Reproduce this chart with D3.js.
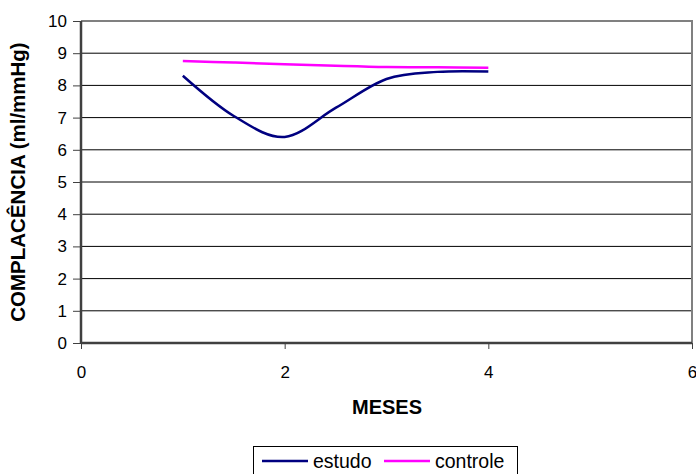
<!DOCTYPE html>
<html>
<head>
<meta charset="utf-8">
<script src="https://cdn.jsdelivr.net/npm/d3@7"></script>
<style>
body { margin: 0; background: #fff; }
svg { display: block; font-family: "Liberation Sans", Arial, sans-serif; }
</style>
</head>
<body>
<svg id="chart" width="696" height="474"></svg>
<script>
'use strict';

var meses = [1, 1.5, 2, 2.5, 3, 3.5, 4];
var estudo = [8.3, 7.05, 6.4, 7.3, 8.2, 8.42, 8.43];
var controle = [8.76, 8.71, 8.66, 8.61, 8.57, 8.56, 8.55];
var xTicks = [0, 2, 4, 6];
var yTicks = [0, 1, 2, 3, 4, 5, 6, 7, 8, 9, 10];
var seriesNames = ["estudo", "controle"];
var seriesColors = ["#000080", "#ff00ff"];

var svg = d3.select('#chart');
var pLeft = 81, pRight = 692, pTop = 21, pBottom = 343;

var x = d3.scaleLinear().domain([0, 6]).range([pLeft, pRight]);
var y = d3.scaleLinear().domain([0, 10]).range([pBottom, pTop]);

// gridlines
svg.append('g')
	.selectAll('line')
	.data(yTicks.slice(1, -1))
	.join('line')
	.attr('x1', pLeft).attr('x2', pRight)
	.attr('y1', function (d) { return y(d); })
	.attr('y2', function (d) { return y(d); })
	.attr('stroke', '#000')
	.attr('stroke-width', 1);

// plot border (top / right)
svg.append('path')
	.attr('d', 'M' + pLeft + ',' + pTop + 'H' + pRight + 'V' + pBottom)
	.attr('fill', 'none')
	.attr('stroke', '#808080')
	.attr('stroke-width', 2);

var yAxis = svg.append('g')
	.attr('transform', 'translate(' + pLeft + ',0)')
	.call(d3.axisLeft(y).tickValues(yTicks).tickSize(8).tickPadding(6).tickFormat(d3.format('d')));
var xAxis = svg.append('g')
	.attr('transform', 'translate(0,' + pBottom + ')')
	.call(d3.axisBottom(x).tickValues(xTicks).tickSize(6).tickPadding(17).tickFormat(d3.format('d')));

[yAxis, xAxis].forEach(function (a) {
	a.select('.domain').attr('stroke', '#404040').attr('stroke-width', 2.5);
	a.selectAll('.tick line').attr('stroke', '#404040');
	a.selectAll('.tick text')
		.attr('font-size', 17)
		.attr('font-family', '"Liberation Sans", Arial, sans-serif')
		.attr('fill', '#000');
});
xAxis.select('.domain').attr('d', 'M' + pLeft + ',0H' + pRight);
yAxis.select('.domain').attr('d', 'M0,' + pBottom + 'V' + pTop);

var line = d3.line()
	.x(function (d) { return x(d[0]); })
	.y(function (d) { return y(d[1]); })
	.curve(d3.curveCardinal.tension(0));

[estudo, controle].forEach(function (vals, i) {
	svg.append('path')
		.datum(meses.map(function (m, j) { return [m, vals[j]]; }))
		.attr('d', line)
		.attr('fill', 'none')
		.attr('stroke', seriesColors[i])
		.attr('stroke-width', 2.5);
});

svg.append('text')
	.attr('transform', 'translate(25,' + ((pTop + pBottom) / 2) + ') rotate(-90)')
	.attr('text-anchor', 'middle')
	.attr('font-size', 20.5)
	.attr('font-weight', 'bold')
	.text('COMPLACÊNCIA (ml/mmHg)');

svg.append('text')
	.attr('x', 387).attr('y', 414)
	.attr('text-anchor', 'middle')
	.attr('font-size', 20)
	.attr('font-weight', 'bold')
	.text('MESES');

// legend
var legend = svg.append('g');
legend.append('rect')
	.attr('x', 253.5).attr('y', 446.5)
	.attr('width', 264).attr('height', 40)
	.attr('fill', '#fff')
	.attr('stroke', '#000');
var lx = [262, 384];
seriesNames.forEach(function (n, i) {
	legend.append('line')
		.attr('x1', lx[i]).attr('x2', lx[i] + 46)
		.attr('y1', 461).attr('y2', 461)
		.attr('stroke', seriesColors[i])
		.attr('stroke-width', 2.5);
	legend.append('text')
		.attr('x', lx[i] + 51).attr('y', 468)
		.attr('font-size', 19.5)
		.text(n);
});
</script>
</body>
</html>
